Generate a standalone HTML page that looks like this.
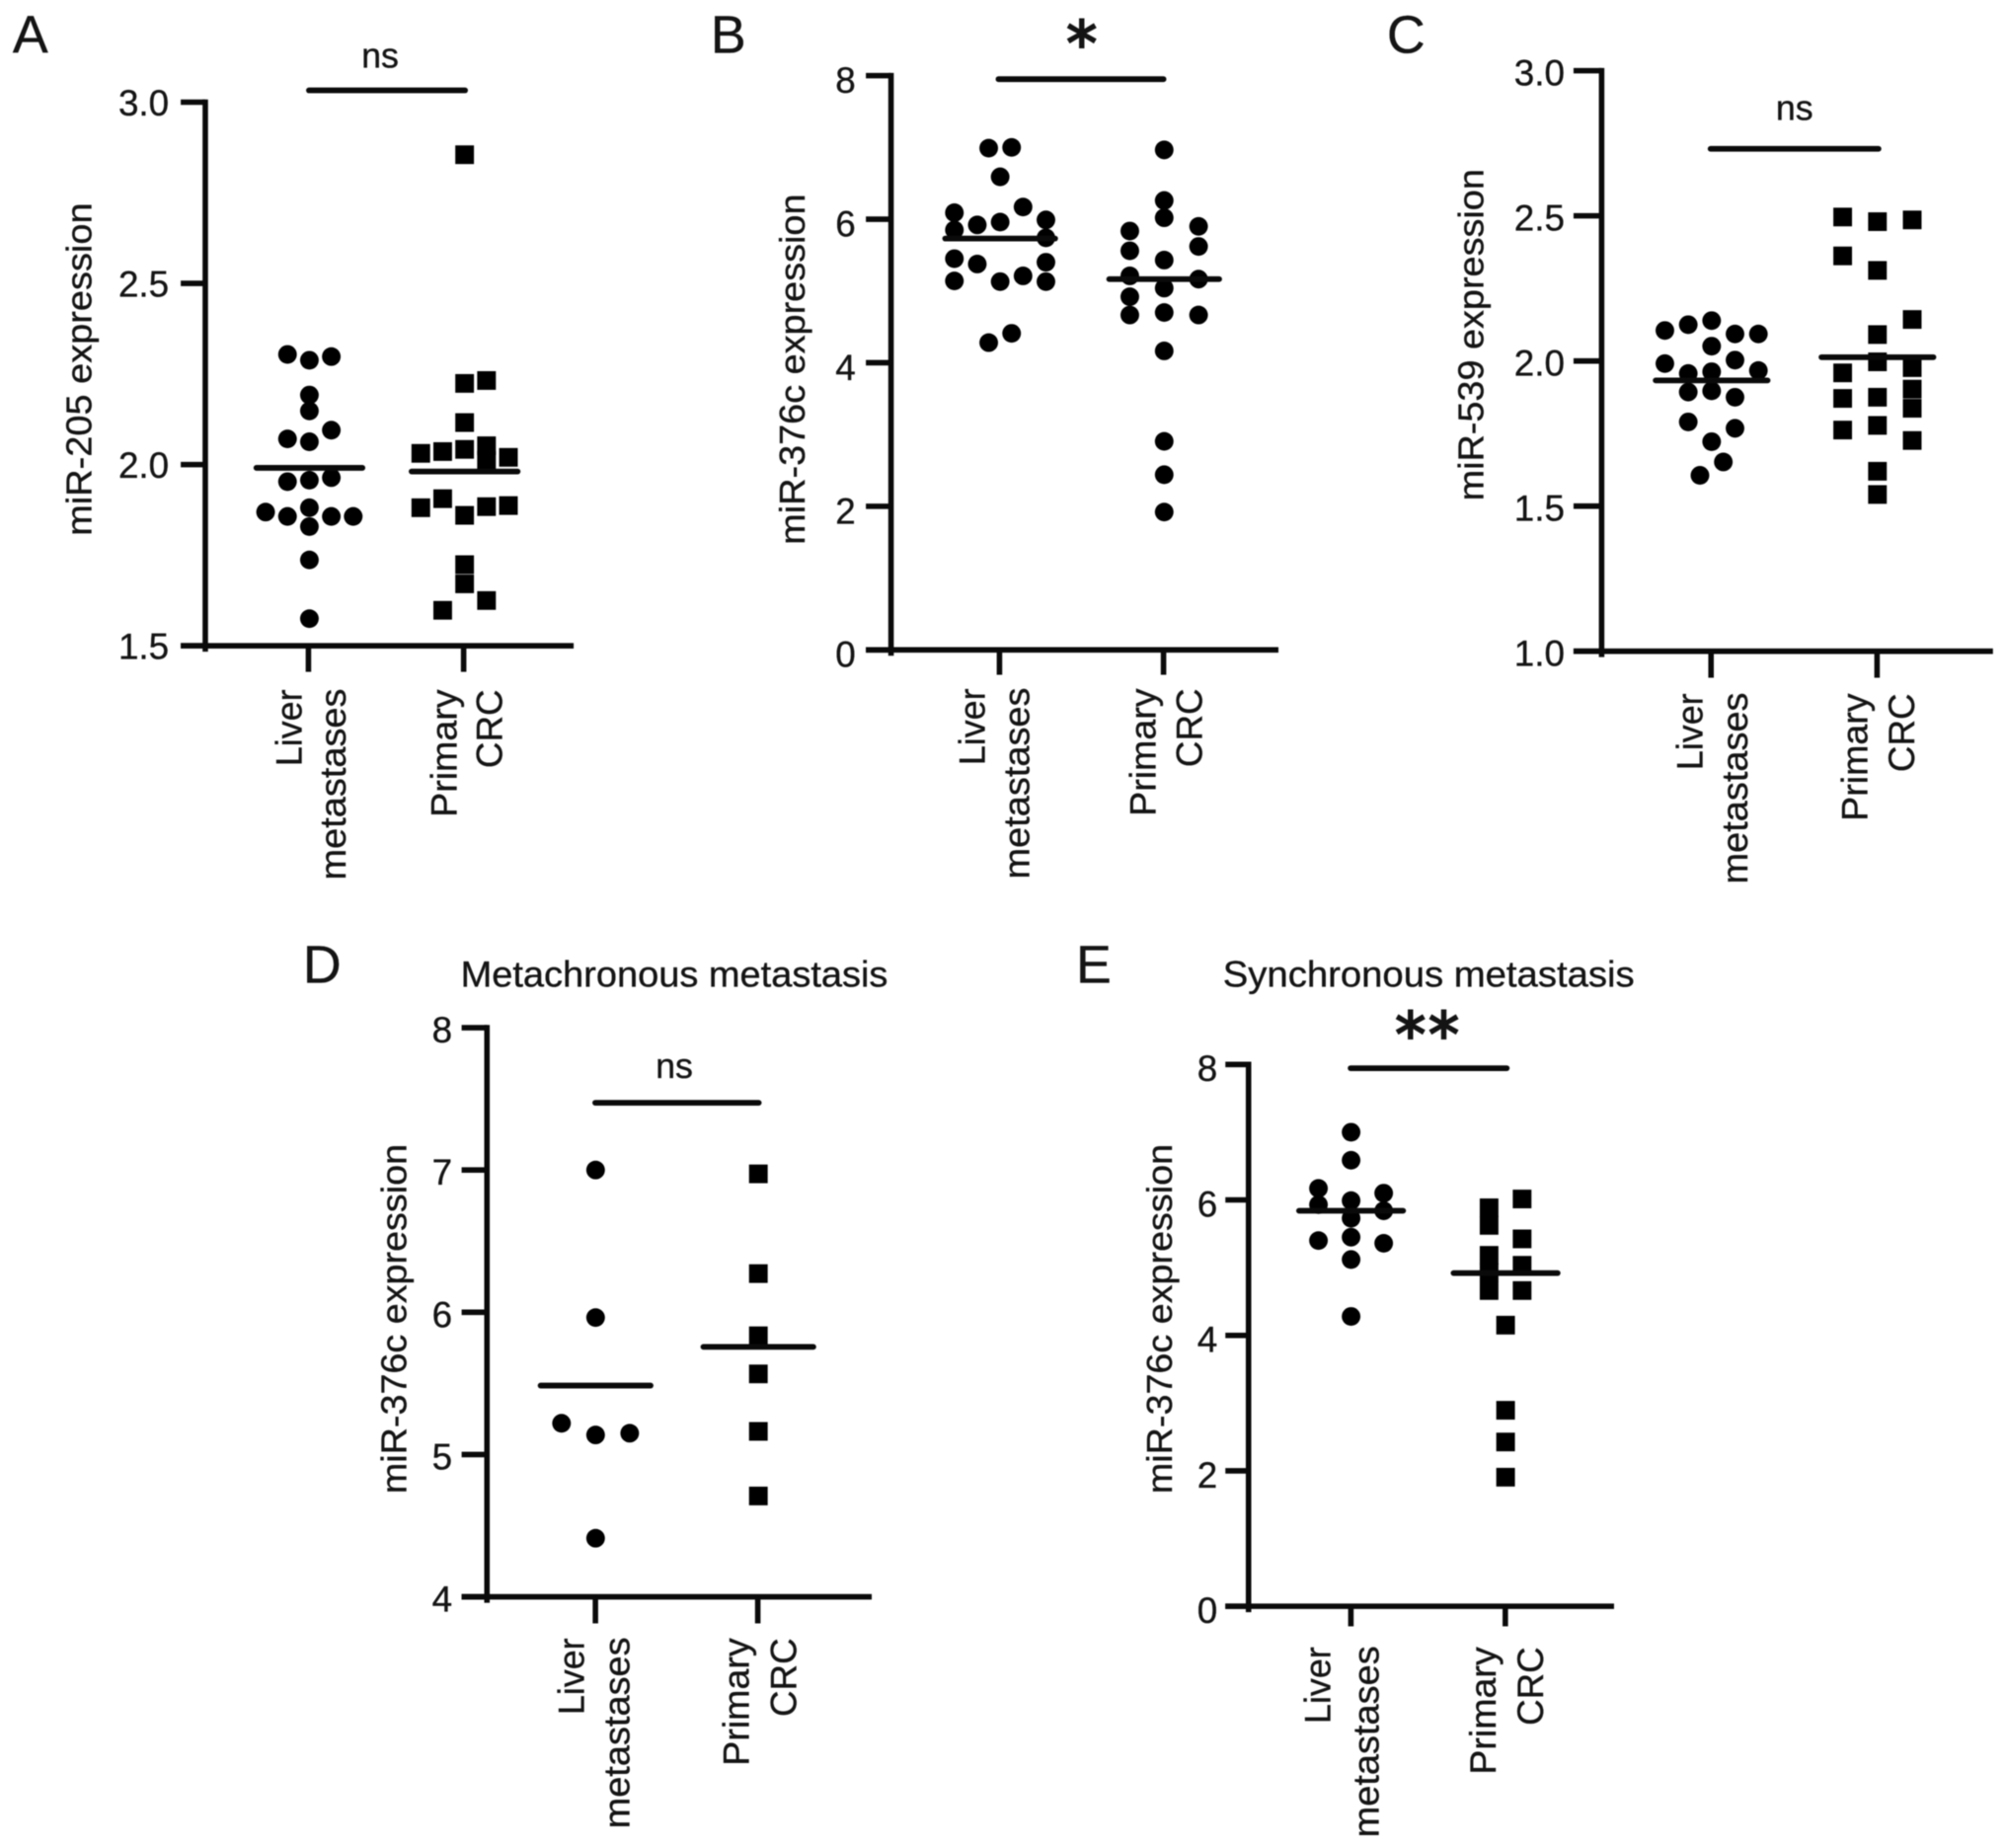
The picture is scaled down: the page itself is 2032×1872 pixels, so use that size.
<!DOCTYPE html>
<html lang="en">
<head>
<meta charset="utf-8">
<title>miR expression scatter plots</title>
<style>
html,body{margin:0;padding:0;background:#fff;}
svg{display:block;filter:blur(0.5px);}
text{font-family:"Liberation Sans",Arial,sans-serif;fill:#141414;stroke:#141414;stroke-width:0.35px;}
</style>
</head>
<body>
<svg id="figure" xmlns="http://www.w3.org/2000/svg" width="2032" height="1872" viewBox="0 0 2032 1872">
  <rect x="0" y="0" width="2032" height="1872" fill="#fff"/>

  <text x="1095.7" y="66" font-size="62" text-anchor="middle" style="font-family:'DejaVu Sans',sans-serif;stroke-width:2px">*</text>
  <text x="1447" y="1070" font-size="62" text-anchor="middle" letter-spacing="2.7" style="font-family:'DejaVu Sans',sans-serif;stroke-width:2px">**</text>

  <g id="panel-a" transform="scale(0.995)">
    <text x="13" y="54" font-size="54">A</text>
    <text transform="translate(93,376) rotate(-90)" font-size="36" text-anchor="middle" textLength="339" lengthAdjust="spacingAndGlyphs">miR-205 expression</text>
    <text x="387" y="69" font-size="36" text-anchor="middle">ns</text>
    <g font-size="37" text-anchor="end">
      <text transform="translate(307,702) rotate(-90)" textLength="78" lengthAdjust="spacingAndGlyphs">Liver</text>
      <text transform="translate(352,701) rotate(-90)" textLength="195" lengthAdjust="spacingAndGlyphs">metastases</text>
      <text transform="translate(465,702) rotate(-90)" textLength="130" lengthAdjust="spacingAndGlyphs">Primary</text>
      <text transform="translate(511,702) rotate(-90)" textLength="80" lengthAdjust="spacingAndGlyphs">CRC</text>
    </g>
  </g>

  <g id="panel-b" transform="translate(700 0) scale(0.995) translate(-700 0)">
    <text x="720" y="54" font-size="54">B</text>
    <text transform="translate(815.5,376) rotate(-90)" font-size="36" text-anchor="middle" textLength="357" lengthAdjust="spacingAndGlyphs">miR-376c expression</text>
    <g font-size="37" text-anchor="end">
      <text transform="translate(999,701) rotate(-90)" textLength="78" lengthAdjust="spacingAndGlyphs">Liver</text>
      <text transform="translate(1044,700) rotate(-90)" textLength="195" lengthAdjust="spacingAndGlyphs">metastases</text>
      <text transform="translate(1173,701) rotate(-90)" textLength="130" lengthAdjust="spacingAndGlyphs">Primary</text>
      <text transform="translate(1220,701) rotate(-90)" textLength="80" lengthAdjust="spacingAndGlyphs">CRC</text>
    </g>
  </g>

  <g id="panel-c" transform="translate(1380 0) scale(0.995) translate(-1380 0)">
    <text x="1405" y="54" font-size="54">C</text>
    <text transform="translate(1503,341) rotate(-90)" font-size="36" text-anchor="middle" textLength="338" lengthAdjust="spacingAndGlyphs">miR-539 expression</text>
    <text x="1820" y="122" font-size="36" text-anchor="middle">ns</text>
    <g font-size="37" text-anchor="end">
      <text transform="translate(1726,706) rotate(-90)" textLength="78" lengthAdjust="spacingAndGlyphs">Liver</text>
      <text transform="translate(1772,705) rotate(-90)" textLength="195" lengthAdjust="spacingAndGlyphs">metastases</text>
      <text transform="translate(1894,706) rotate(-90)" textLength="130" lengthAdjust="spacingAndGlyphs">Primary</text>
      <text transform="translate(1942,706) rotate(-90)" textLength="80" lengthAdjust="spacingAndGlyphs">CRC</text>
    </g>
  </g>

  <g id="panel-d" transform="translate(290 940) scale(0.995) translate(-290 -940)">
    <text x="307" y="996" font-size="54">D</text>
    <text x="685" y="1000" font-size="37" text-anchor="middle" textLength="435" lengthAdjust="spacingAndGlyphs">Metachronous metastasis</text>
    <text transform="translate(412,1338) rotate(-90)" font-size="36" text-anchor="middle" textLength="356" lengthAdjust="spacingAndGlyphs">miR-376c expression</text>
    <text x="685" y="1093" font-size="36" text-anchor="middle">ns</text>
    <g font-size="37" text-anchor="end">
      <text transform="translate(593,1663) rotate(-90)" textLength="78" lengthAdjust="spacingAndGlyphs">Liver</text>
      <text transform="translate(639,1662) rotate(-90)" textLength="195" lengthAdjust="spacingAndGlyphs">metastases</text>
      <text transform="translate(761,1663) rotate(-90)" textLength="130" lengthAdjust="spacingAndGlyphs">Primary</text>
      <text transform="translate(809,1663) rotate(-90)" textLength="80" lengthAdjust="spacingAndGlyphs">CRC</text>
    </g>
  </g>

  <g id="panel-e" transform="translate(1090 940) scale(0.995) translate(-1090 -940)">
    <text x="1090" y="996" font-size="54">E</text>
    <text x="1449" y="1000" font-size="37" text-anchor="middle" textLength="419" lengthAdjust="spacingAndGlyphs">Synchronous metastasis</text>
    <text transform="translate(1187.6,1338) rotate(-90)" font-size="36" text-anchor="middle" textLength="356" lengthAdjust="spacingAndGlyphs">miR-376c expression</text>
    <g font-size="37" text-anchor="end">
      <text transform="translate(1349,1672) rotate(-90)" textLength="78" lengthAdjust="spacingAndGlyphs">Liver</text>
      <text transform="translate(1398,1671) rotate(-90)" textLength="195" lengthAdjust="spacingAndGlyphs">metastases</text>
      <text transform="translate(1517,1672) rotate(-90)" textLength="130" lengthAdjust="spacingAndGlyphs">Primary</text>
      <text transform="translate(1565.5,1672) rotate(-90)" textLength="80" lengthAdjust="spacingAndGlyphs">CRC</text>
    </g>
  </g>
</svg>

<script>
// Panel A: miR-205
const aTicks = ['1.5', '2.0', '2.5', '3.0'];
const aLiverValues = [2.304, 2.288, 2.298, 2.192, 2.148, 2.095, 2.071, 2.063, 1.953, 1.957, 1.964, 1.869, 1.857, 1.881, 1.857, 1.857, 1.829, 1.737, 1.575];
const aLiverSlots = [-1, 0, 1, 0, 0, 1, -1, 0, -1, 0, 1, -2, -1, 0, 1, 2, 0, 0, 0];
const aPrimaryValues = [2.855, 2.232, 2.224, 2.116, 2.031, 2.036, 2.042, 2.052, 2.012, 2.02, 1.881, 1.906, 1.86, 1.884, 1.887, 1.724, 1.671, 1.625, 1.598];
const aPrimarySlots = [0, 1, 0, 0, -2, -1, 0, 1, 1, 2, -2, -1, 0, 1, 2, 0, 0, 1, -1];
const aMeans = [1.991, 1.981];

// Panel B: miR-376c
const bTicks = ['0', '2', '4', '6', '8'];
const bLiverValues = [6.99, 7.0, 6.59, 6.17, 6.09, 5.85, 5.92, 5.96, 5.99, 5.74, 5.45, 5.375, 5.4, 5.14, 5.13, 5.21, 5.13, 4.28, 4.41];
const bLiverSlots = [-0.5, 0.5, 0, 1, -2, -2, -1, 0, 2, 2, -2, -1, 2, -2, 0, 1, 2, -0.5, 0.5];
const bPrimaryValues = [6.965, 6.26, 6.02, 5.835, 5.9, 5.56, 5.62, 5.43, 5.21, 5.165, 5.04, 4.92, 4.665, 4.7, 4.665, 4.165, 2.905, 2.44, 1.92];
const bPrimarySlots = [0, 0, 0, -1, 1, -1, 1, 0, -1, 1, 0, -1, -1, 0, 1, 0, 0, 0, 0];
const bMeans = [5.73, 5.165];

// Panel C: miR-539
const cTicks = ['1.0', '1.5', '2.0', '2.5', '3.0'];
const cLiverValues = [2.105, 2.125, 2.139, 2.093, 2.093, 2.051, 1.991, 2.003, 1.957, 1.963, 1.967, 1.893, 1.897, 1.875, 1.79, 1.768, 1.722, 1.652, 1.606];
const cLiverSlots = [-2, -1, 0, 1, 2, 0, -2, 1, -1, 0, 2, -1, 0, 1, -1, 1, 0, 0.5, -0.5];
const cPrimaryValues = [2.496, 2.48, 2.486, 2.362, 2.312, 2.143, 2.091, 1.959, 1.997, 1.977, 1.871, 1.875, 1.903, 1.837, 1.762, 1.778, 1.726, 1.62, 1.54];
const cPrimarySlots = [-1, 0, 1, -1, 0, 1, 0, -1, 0, 1, -1, 0, 1, 1, -1, 0, 1, 0, 0];
const cMeans = [1.933, 2.013];

// Panel D: miR-376c, metachronous metastasis
const dTicks = ['4', '5', '6', '7', '8'];
const dLiverValues = [7.0, 5.963, 5.22, 5.138, 5.15, 4.412];
const dLiverSlots = [0, 0, -1, 0, 1, 0];
const dPrimaryValues = [6.973, 6.272, 5.835, 5.567, 5.163, 4.709];
const dPrimarySlots = [0, 0, 0, 0, 0, 0];
const dMeans = [5.485, 5.757];

// Panel E: miR-376c, synchronous metastasis
const eTicks = ['0', '2', '4', '6', '8'];
const eLiverValues = [7.0, 6.586, 6.17, 6.1, 5.93, 5.99, 5.84, 5.73, 5.4, 5.45, 5.36, 5.12, 4.28];
const eLiverSlots = [0, 0, -1, 1, -1, 0, 1, 0, -1, 0, 1, 0, 0];
const ePrimaryValues = [5.884, 6.014, 5.624, 5.425, 5.182, 4.93, 5.035, 4.662, 4.662, 4.151, 2.894, 2.426, 1.906];
const ePrimarySlots = [-1, 1, -1, 1, -1, -1, 1, -1, 1, 0, 0, 0, 0];
const eMeans = [5.84, 4.92];

const SVG_NS = 'http://www.w3.org/2000/svg';

function make(parent, tag, attrs) {
  const el = document.createElementNS(SVG_NS, tag);
  for (const key in attrs) el.setAttribute(key, attrs[key]);
  parent.appendChild(el);
  return el;
}

function drawPanel(layout, ticks, means, liverValues, liverSlots, primaryValues, primarySlots) {
  const p = layout.id;
  const tickValues = ticks.map(Number);
  const vMin = tickValues[0];
  const vMax = tickValues[tickValues.length - 1];
  const yScale = function (v) {
    return layout.yBottom + (v - vMin) / (vMax - vMin) * (layout.yTop - layout.yBottom);
  };
  const line = { stroke: '#0a0a0a', 'stroke-width': 5.6, 'stroke-linecap': 'butt' };

  const group = make(document.getElementById('panel-' + p), 'g', {});
  
  

  // Y axis
  const yAxis = make(group, 'line', Object.assign({ x1: layout.xAxis, x2: layout.xAxis, y1: yScale(vMax) - 2.8, y2: yScale(vMin) + 6 }, line));
  
  

  // X axis
  const xAxis = make(group, 'line', Object.assign({ x1: layout.tickLeft, x2: layout.xEnd, y1: yScale(vMin), y2: yScale(vMin) }, line));
  
  

  ticks.forEach(function (label) {
    const y = yScale(Number(label));
    const mark = make(group, 'line', Object.assign({ x1: layout.tickLeft, x2: layout.xAxis, y1: y, y2: y }, line));
    
    
    const text = make(group, 'text', { x: layout.labelEnd, y: y + layout.labelDrop, 'font-size': 37, 'text-anchor': 'end' });
    text.textContent = label;
    
    
  });

  layout.catX.forEach(function (x) {
    const mark = make(group, 'line', Object.assign({ x1: x, x2: x, y1: yScale(vMin), y2: layout.tickBottom }, line));
    
    
  });

  // Significance bar
  const bar = make(group, 'line', { x1: layout.sig[0], x2: layout.sig[1], y1: layout.sig[2], y2: layout.sig[2], stroke: '#0a0a0a', 'stroke-width': 5.8, 'stroke-linecap': 'round' });
  
  

  // Liver metastases: circles
  liverValues.forEach(function (v, i) {
    const dot = make(group, 'circle', {
      cx: layout.markX[0] + liverSlots[i] * layout.slotStep[0],
      cy: yScale(v),
      r: layout.size / 2,
      fill: '#000'
    });
    
    
  });

  // Primary CRC: squares (panel B uses circles in both groups)
  primaryValues.forEach(function (v, i) {
    const cx = layout.markX[1] + primarySlots[i] * layout.slotStep[1];
    const cy = yScale(v);
    let mark;
    if (layout.primaryCircles) {
      mark = make(group, 'circle', { cx: cx, cy: cy, r: layout.size / 2, fill: '#000' });
    } else {
      mark = make(group, 'rect', { x: cx - layout.size / 2, y: cy - layout.size / 2, width: layout.size, height: layout.size, fill: '#000' });
    }
    
    
  });

  // Mean lines
  means.forEach(function (m, i) {
    const mean = make(group, 'line', {
      x1: layout.markX[i] - layout.meanHalf,
      x2: layout.markX[i] + layout.meanHalf,
      y1: yScale(m),
      y2: yScale(m),
      stroke: '#0a0a0a',
      'stroke-width': 5.8,
      'stroke-linecap': 'round'
    });
    
    
  });
}

drawPanel({
  id: 'a', xAxis: 209, yTop: 104, yBottom: 657.5, tickLeft: 184, xEnd: 584,
  labelEnd: 172, labelDrop: 13.5, catX: [314, 472], tickBottom: 684,
  markX: [315, 473], slotStep: [22.3, 22.3], meanHalf: 54, size: 19,
  sig: [314.5, 473.5, 92]
}, aTicks, aMeans, aLiverValues, aLiverSlots, aPrimaryValues, aPrimarySlots);

drawPanel({
  id: 'b', xAxis: 903.6, yTop: 77, yBottom: 661.6, tickLeft: 878, xEnd: 1298,
  labelEnd: 867.5, labelDrop: 17.5, catX: [1014, 1181], tickBottom: 687,
  markX: [1014.7, 1181.7], slotStep: [23.3, 35], meanHalf: 56, size: 19, primaryCircles: true,
  sig: [1013, 1181, 80.6]
}, bTicks, bMeans, bLiverValues, bLiverSlots, bPrimaryValues, bPrimarySlots);

drawPanel({
  id: 'c', xAxis: 1623.6, yTop: 72, yBottom: 663, tickLeft: 1595, xEnd: 2022,
  labelEnd: 1586, labelDrop: 15, catX: [1735, 1904], tickBottom: 690,
  markX: [1735.6, 1904.4], slotStep: [23.8, 35.4], meanHalf: 57, size: 19,
  sig: [1734.5, 1905.5, 151.5]
}, cTicks, cMeans, cLiverValues, cLiverSlots, cPrimaryValues, cPrimarySlots);

drawPanel({
  id: 'd', xAxis: 494.3, yTop: 1041.6, yBottom: 1621, tickLeft: 468.5, xEnd: 886,
  labelEnd: 459, labelDrop: 15, catX: [604.7, 770], tickBottom: 1648,
  markX: [604.9, 770.6], slotStep: [34.7, 0], meanHalf: 56, size: 19,
  sig: [604.5, 771, 1118]
}, dTicks, dMeans, dLiverValues, dLiverSlots, dPrimaryValues, dPrimarySlots);

drawPanel({
  id: 'e', xAxis: 1265.6, yTop: 1079, yBottom: 1630.6, tickLeft: 1242, xEnd: 1637.7,
  labelEnd: 1234, labelDrop: 17, catX: [1369.8, 1527], tickBottom: 1651,
  markX: [1370, 1527.3], slotStep: [33.2, 16.8], meanHalf: 53, size: 19,
  sig: [1369.5, 1528.5, 1082.8]
}, eTicks, eMeans, eLiverValues, eLiverSlots, ePrimaryValues, ePrimarySlots);
</script>
</body>
</html>
